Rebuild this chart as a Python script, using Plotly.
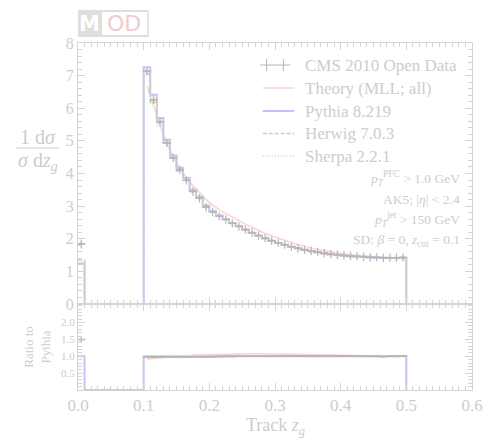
import plotly.graph_objects as go

# ---------------- data ----------------
bin_edges = [0.00, 0.01, 0.02, 0.03, 0.04, 0.05, 0.06, 0.07, 0.08, 0.09,
             0.10, 0.11, 0.12, 0.13, 0.14, 0.15, 0.16, 0.17, 0.18, 0.19,
             0.20, 0.21, 0.22, 0.23, 0.24, 0.25, 0.26, 0.27, 0.28, 0.29,
             0.30, 0.31, 0.32, 0.33, 0.34, 0.35, 0.36, 0.37, 0.38, 0.39,
             0.40, 0.41, 0.42, 0.43, 0.44, 0.45, 0.46, 0.47, 0.48, 0.49, 0.50]

pythia = [1.23, 0, 0, 0, 0, 0, 0, 0, 0, 0,
          7.26, 6.41, 5.70, 5.03, 4.55, 4.17, 3.86, 3.50, 3.29, 3.02,
          2.85, 2.71, 2.60, 2.48, 2.38, 2.28, 2.18, 2.09, 2.01, 1.94,
          1.87, 1.81, 1.75, 1.70, 1.66, 1.62, 1.58, 1.55, 1.52, 1.50,
          1.48, 1.46, 1.45, 1.44, 1.43, 1.42, 1.42, 1.41, 1.41, 1.41]

herwig = [1.35, 0, 0, 0, 0, 0, 0, 0, 0, 0,
          7.05, 6.18, 5.55, 4.93, 4.47, 4.08, 3.80, 3.44, 3.25, 2.98,
          2.84, 2.70, 2.60, 2.49, 2.39, 2.29, 2.19, 2.10, 2.02, 1.95,
          1.88, 1.82, 1.76, 1.71, 1.67, 1.63, 1.59, 1.56, 1.53, 1.50,
          1.48, 1.46, 1.45, 1.43, 1.42, 1.41, 1.41, 1.40, 1.40, 1.40]

sherpa = [1.28, 0, 0, 0, 0, 0, 0, 0, 0, 0,
          7.15, 6.38, 5.45, 5.05, 4.50, 4.20, 3.88, 3.48, 3.27, 3.04,
          2.87, 2.72, 2.62, 2.49, 2.39, 2.28, 2.18, 2.09, 2.01, 1.93,
          1.86, 1.80, 1.75, 1.70, 1.65, 1.61, 1.57, 1.54, 1.51, 1.49,
          1.47, 1.45, 1.44, 1.43, 1.42, 1.41, 1.40, 1.40, 1.39, 1.39]

cms_data = [1.84, 0, 0, 0, 0, 0, 0, 0, 0, 0,
            7.13, 6.26, 5.59, 4.94, 4.48, 4.11, 3.79, 3.45, 3.24, 2.97,
            2.82, 2.69, 2.59, 2.47, 2.38, 2.28, 2.19, 2.10, 2.02, 1.94,
            1.88, 1.82, 1.76, 1.71, 1.66, 1.63, 1.59, 1.56, 1.53, 1.51,
            1.49, 1.47, 1.46, 1.45, 1.43, 1.43, 1.41, 1.42, 1.42, 1.43]
cms_err = [0.08, 0, 0, 0, 0, 0, 0, 0, 0, 0,
           0.06, 0.06, 0.05, 0.05, 0.05, 0.04, 0.04, 0.04, 0.04, 0.04,
           0.03, 0.03, 0.03, 0.03, 0.03, 0.03, 0.03, 0.03, 0.03, 0.03,
           0.03, 0.03, 0.03, 0.03, 0.03, 0.03, 0.03, 0.03, 0.03, 0.03,
           0.03, 0.03, 0.03, 0.03, 0.03, 0.03, 0.03, 0.03, 0.03, 0.03]

theory = [0, 0, 0, 0, 0, 0, 0, 0, 0, 0,
          6.68, 6.05, 5.48, 4.93, 4.50, 4.15, 3.88, 3.62, 3.42, 3.20,
          3.03, 2.89, 2.78, 2.66, 2.56, 2.45, 2.35, 2.25, 2.16, 2.09,
          2.01, 1.95, 1.88, 1.82, 1.77, 1.72, 1.67, 1.63, 1.59, 1.56,
          1.53, 1.51, 1.49, 1.47, 1.45, 1.44, 1.43, 1.42, 1.41, 1.41]

series_names = ["CMS 2010 Open Data", "Theory (MLL; all)", "Pythia 8.219",
                "Herwig 7.0.3", "Sherpa 2.2.1"]

x_tick_vals = [0.0, 0.1, 0.2, 0.3, 0.4, 0.5, 0.6]
x_tick_text = ["0.0", "0.1", "0.2", "0.3", "0.4", "0.5", "0.6"]
y_tick_vals = [0, 1, 2, 3, 4, 5, 6, 7, 8]
r_tick_vals = [0.5, 1.0, 1.5, 2.0]
r_tick_text = ["0.5", "1.0", "1.5", "2.0"]

# ---------------- styles ----------------
FONT = "Liberation Serif"
TXT = "rgb(205,205,205)"
AX = "rgb(212,212,212)"
C_DATA = "rgb(182,182,182)"
C_THEORY = "rgb(252,210,210)"
C_PYTHIA = "rgb(195,195,250)"
C_HERWIG = "rgb(180,222,180)"
C_SHERPA = "rgb(235,185,235)"
HERWIG_DASH = "4px,2px"
SHERPA_DASH = "1px,2px"

# pixel -> paper helpers (plot area 78..479 x 43..390)
L, R, T, B = 78, 479, 43, 390
def pxx(x):
    return (x - L) / (R - L)
def pxy(y):
    return (B - y) / (B - T)

split = pxy(304)

centers = [(bin_edges[i] + bin_edges[i + 1]) / 2 for i in range(len(bin_edges) - 1)]

def step(vals):
    return list(bin_edges), list(vals) + [0]

def ratio(num, den):
    out = []
    for n, d in zip(num, den):
        out.append(n / d if d else None)
    return out

fig = go.Figure()

# ---- main panel ----
dx = [c for c, v in zip(centers, cms_data) if v]
dy = [v for v in cms_data if v]
de = [e for e, v in zip(cms_err, cms_data) if v]

tx = [c for c, v in zip(centers, theory) if v]
ty = [v for v in theory if v]
fig.add_trace(go.Scatter(x=tx, y=ty, mode="lines", name=series_names[1],
                         line=dict(color=C_THEORY, width=1.5), xaxis="x", yaxis="y"))

sx, sy = step(pythia)
fig.add_trace(go.Scatter(x=sx, y=sy, mode="lines", line_shape="hv", name=series_names[2],
                         line=dict(color=C_PYTHIA, width=2), xaxis="x", yaxis="y"))
sx, sy = step(herwig)
fig.add_trace(go.Scatter(x=sx, y=sy, mode="lines", line_shape="hv", name=series_names[3],
                         line=dict(color=C_HERWIG, width=1.5, dash=HERWIG_DASH), xaxis="x", yaxis="y"))
sx, sy = step(sherpa)
fig.add_trace(go.Scatter(x=sx, y=sy, mode="lines", line_shape="hv", name=series_names[4],
                         line=dict(color=C_SHERPA, width=1.5, dash=SHERPA_DASH), xaxis="x", yaxis="y"))

fig.add_trace(go.Scatter(x=dx, y=dy, mode="markers", name=series_names[0],
                         marker=dict(symbol="cross-thin", size=6, color=C_DATA,
                                     line=dict(color=C_DATA, width=1.2)),
                         error_x=dict(type="constant", value=0.005, color=C_DATA, thickness=1.5, width=0),
                         error_y=dict(type="data", array=de, color=C_DATA, thickness=1.5, width=0),
                         xaxis="x", yaxis="y"))

# ---- ratio panel ----
r_pythia = [1 if v else 0 for v in pythia]
sx, sy = step(r_pythia)
fig.add_trace(go.Scatter(x=sx, y=sy, mode="lines", line_shape="hv",
                         line=dict(color=C_PYTHIA, width=2), xaxis="x2", yaxis="y2"))
rt = ratio(theory, pythia)
fig.add_trace(go.Scatter(x=[c for c, v in zip(centers, rt) if v],
                         y=[v for v in rt if v], mode="lines",
                         line=dict(color=C_THEORY, width=1.5), xaxis="x2", yaxis="y2"))
rh = ratio(herwig, pythia)
fig.add_trace(go.Scatter(x=bin_edges, y=rh + [None], mode="lines", line_shape="hv",
                         connectgaps=False,
                         line=dict(color=C_HERWIG, width=1.5, dash=HERWIG_DASH), xaxis="x2", yaxis="y2"))
rs = ratio(sherpa, pythia)
fig.add_trace(go.Scatter(x=bin_edges, y=rs + [None], mode="lines", line_shape="hv",
                         connectgaps=False,
                         line=dict(color=C_SHERPA, width=1.5, dash=SHERPA_DASH), xaxis="x2", yaxis="y2"))
rd = ratio(cms_data, pythia)
re_ = ratio(cms_err, pythia)
fig.add_trace(go.Scatter(x=[c for c, v in zip(centers, rd) if v],
                         y=[v for v in rd if v],
                         mode="markers",
                         marker=dict(symbol="line-ew", size=6, color=C_DATA,
                                     line=dict(color=C_DATA, width=1.5)),
                         error_x=dict(type="constant", value=0.005, color=C_DATA, thickness=1.5, width=0),
                         error_y=dict(type="data", array=[e for e, v in zip(re_, rd) if v],
                                      color=C_DATA, thickness=1.5, width=0),
                         xaxis="x2", yaxis="y2"))

axis_common = dict(showline=True, linecolor=AX, linewidth=1, mirror="allticks",
                   ticks="inside", tickcolor=AX, ticklen=7, tickwidth=1,
                   showgrid=False, zeroline=False)

fig.update_layout(
    width=495, height=438,
    margin=dict(l=L, r=495 - R, t=T, b=438 - B),
    paper_bgcolor="white", plot_bgcolor="white",
    font=dict(family=FONT, color=TXT),
    showlegend=False,
    xaxis=dict(domain=[0, 1], range=[0, 0.6], anchor="y", showticklabels=False,
               tickvals=x_tick_vals,
               minor=dict(ticks="inside", dtick=0.01, tick0=0, ticklen=4, tickcolor=AX),
               **axis_common),
    yaxis=dict(domain=[split, 1], range=[0, 8], anchor="x", tickvals=y_tick_vals,
               tickfont=dict(size=16, color=TXT),
               minor=dict(ticks="inside", dtick=0.2, tick0=0, ticklen=4, tickcolor=AX),
               **axis_common),
    xaxis2=dict(domain=[0, 1], range=[0, 0.6], anchor="y2", matches="x",
                tickvals=x_tick_vals, ticktext=x_tick_text,
                tickfont=dict(size=17, color=TXT),
                minor=dict(ticks="inside", dtick=0.01, tick0=0, ticklen=4, tickcolor=AX),
                **axis_common),
    yaxis2=dict(domain=[0, split], range=[0, 2.55], anchor="x2",
                tickvals=r_tick_vals, ticktext=r_tick_text,
                tickfont=dict(size=11, color=TXT),
                minor=dict(ticks="inside", dtick=0.1, tick0=0, ticklen=4, tickcolor=AX),
                **axis_common),
)

ann = []
shapes = []

# ---- manual legend ----
leg_rows = [65, 88, 111, 133.5, 156]
leg_styles = [None,
              dict(color=C_THEORY, width=1.5),
              dict(color=C_PYTHIA, width=2),
              dict(color=C_HERWIG, width=1.5, dash=HERWIG_DASH),
              dict(color=C_SHERPA, width=1.5, dash=SHERPA_DASH)]
for name, yy, st in zip(series_names, leg_rows, leg_styles):
    ann.append(dict(x=pxx(307), y=pxy(yy), xref="paper", yref="paper", text=name,
                    xanchor="left", yanchor="middle", showarrow=False,
                    font=dict(family=FONT, size=17, color=TXT)))
    if st is None:
        shapes.append(dict(type="line", xref="paper", yref="paper", x0=pxx(263), x1=pxx(294),
                           y0=pxy(yy), y1=pxy(yy), line=dict(color=C_DATA, width=1)))
        for xc in (270, 287):
            shapes.append(dict(type="line", xref="paper", yref="paper", x0=pxx(xc), x1=pxx(xc),
                               y0=pxy(yy - 6), y1=pxy(yy + 6), line=dict(color=C_DATA, width=1)))
    else:
        shapes.append(dict(type="line", xref="paper", yref="paper", x0=pxx(266), x1=pxx(298),
                           y0=pxy(yy), y1=pxy(yy), line=st))

# main y title (fraction)
ann.append(dict(x=pxx(37), y=pxy(137), xref="paper", yref="paper", text="1 d<i>σ</i>",
                xanchor="center", yanchor="middle",
                showarrow=False, font=dict(family=FONT, size=20, color=TXT)))
ann.append(dict(x=pxx(37), y=pxy(161), xref="paper", yref="paper",
                text="<i>σ</i> d<i>z</i><sub><i>g</i></sub>",
                xanchor="center", yanchor="middle",
                showarrow=False, font=dict(family=FONT, size=20, color=TXT)))
# ratio y title
ann.append(dict(x=pxx(36), y=pxy(347), xref="paper", yref="paper",
                text="Ratio to<br>Pythia", textangle=-90, showarrow=False,
                xanchor="center", yanchor="middle",
                font=dict(family=FONT, size=13, color=TXT)))
# x title
ann.append(dict(x=pxx(279), y=pxy(426), xref="paper", yref="paper",
                text="Track <i>z</i><sub><i>g</i></sub>", showarrow=False,
                xanchor="center", yanchor="middle",
                font=dict(family=FONT, size=18, color=TXT)))
# cuts text
cut_lines = [
    ("<i>p</i><sub><i>T</i></sub><sup>PFC</sup> > 1.0 GeV", 178),
    ("AK5; |<i>η</i>| < 2.4", 199),
    ("<i>p</i><sub><i>T</i></sub><sup>jet</sup> > 150 GeV", 219),
    ("SD: <i>β</i> = 0, <i>z</i><sub>cut</sub> = 0.1", 240),
]
for t, yy in cut_lines:
    ann.append(dict(x=pxx(469), y=pxy(yy), xref="paper", yref="paper", text=t,
                    xanchor="right", yanchor="middle", showarrow=False,
                    font=dict(family=FONT, size=13.5, color=TXT)))
# MOD logo text
ann.append(dict(x=pxx(90), y=pxy(24), xref="paper", yref="paper", text="<b>M</b>",
                xanchor="center", yanchor="middle",
                showarrow=False, font=dict(family="DejaVu Sans", size=21, color="white")))
ann.append(dict(x=pxx(125), y=pxy(24), xref="paper", yref="paper", text="OD",
                xanchor="center", yanchor="middle",
                showarrow=False, font=dict(family="DejaVu Sans", size=22, color="rgb(236,205,205)")))
fig.update_layout(annotations=ann)

# fraction bar
shapes.append(dict(type="line", xref="paper", yref="paper", x0=pxx(15), x1=pxx(59),
                   y0=pxy(148), y1=pxy(148), line=dict(color=TXT, width=1)))
# MOD logo box
shapes.append(dict(type="rect", xref="paper", yref="paper", x0=pxx(78), x1=pxx(150),
                   y0=pxy(37), y1=pxy(10), fillcolor="rgb(222,222,222)", line=dict(width=0),
                   layer="below"))
shapes.append(dict(type="rect", xref="paper", yref="paper", x0=pxx(102), x1=pxx(149),
                   y0=pxy(35.5), y1=pxy(11.5), fillcolor="white",
                   line=dict(color="rgb(222,222,222)", width=1), layer="below"))
fig.update_layout(shapes=shapes)

fig.write_html("out.html", config={"displayModeBar": False},
               post_script="document.body.style.margin='0';")
